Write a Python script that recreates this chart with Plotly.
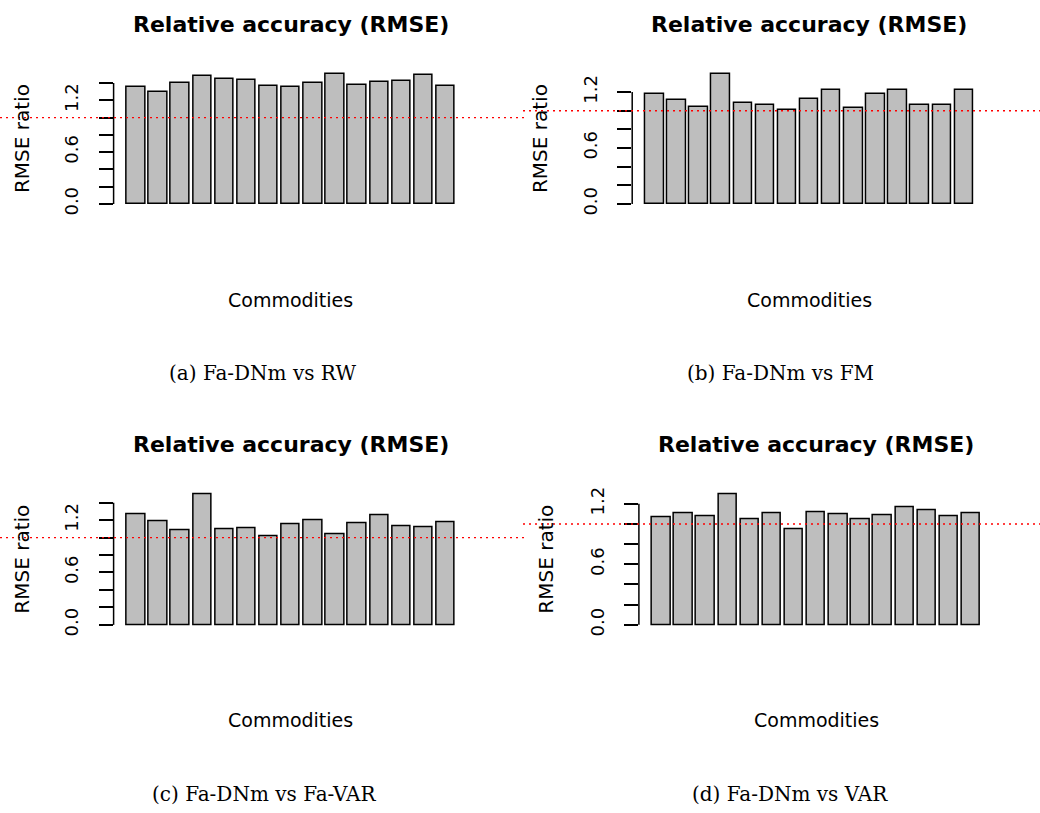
import numpy as np
import plotly.graph_objects as go

# ---------------- data ----------------
commodities = list(range(1, 16))
rmse_rw = [1.350, 1.293, 1.396, 1.484, 1.453, 1.434, 1.361, 1.350, 1.403, 1.503,
           1.381, 1.407, 1.423, 1.495, 1.365]
rmse_fm = [1.179, 1.115, 1.037, 1.391, 1.080, 1.062, 1.002, 1.126, 1.218, 1.030,
           1.182, 1.225, 1.058, 1.058, 1.225]
rmse_favar = [1.264, 1.192, 1.086, 1.494, 1.097, 1.112, 1.014, 1.154, 1.199, 1.037,
              1.165, 1.256, 1.135, 1.124, 1.180]
rmse_var = [1.066, 1.105, 1.079, 1.292, 1.046, 1.105, 0.948, 1.115, 1.095, 1.043,
            1.082, 1.167, 1.138, 1.072, 1.105]
captions = ["(a) Fa-DNm vs RW", "(b) Fa-DNm vs FM",
            "(c) Fa-DNm vs Fa-VAR", "(d) Fa-DNm vs VAR"]
title_text = "Relative accuracy (RMSE)"
x_title = "Commodities"
y_title = "RMSE ratio"
reference_level = 1.0
tick_step = 0.2

series = [rmse_rw, rmse_fm, rmse_favar, rmse_var]

# ---------------- layout geometry (pixels) ----------------
W, H = 1040, 813
# plot regions: (left, right, top, bottom) in px
regions = [(113.6, 468.1, 67.7, 209.2),
           (632.2, 986.4, 67.7, 209.2),
           (113.6, 468.1, 492.1, 634.3),
           (638.9, 993.4, 492.1, 634.3)]
ytitle_x = [22, 540, 22, 546]
caption_x = [262, 780, 264, 790]
row_text_y = [(23, 301, 375), (23, 301, 375), (447, 725, 800), (447, 725, 800)]
line_span = [(0, 525), (523, 1040), (0, 525), (523, 1040)]

SANS = "DejaVu Sans"
SERIF = "DejaVu Serif"

fig = go.Figure()
shapes = []
annotations = []
bar_w = 1 / 1.2

for k, vals in enumerate(series):
    idx = "" if k == 0 else str(k + 1)
    xa, ya = "x" + idx, "y" + idx
    fig.add_trace(go.Bar(
        x=commodities, y=vals, width=bar_w,
        marker=dict(color="#BEBEBE", line=dict(color="black", width=1.5)),
        xaxis=xa, yaxis=ya, showlegend=False, hoverinfo="x+y"))

    l, r, t, b = regions[k]
    n = len(vals)
    span_l, span_r = 1 - bar_w / 2, n + bar_w / 2
    ext = 0.04 * (span_r - span_l)
    ymax = max(vals)
    top_tick = np.floor(ymax / tick_step + 1e-9) * tick_step
    tickvals = list(np.round(np.arange(0, top_tick + 1e-9, tick_step), 2))
    ticktext = [f"{v:.1f}" if i % 3 == 0 else "" for i, v in enumerate(tickvals)]

    fig.layout["xaxis" + idx] = dict(
        domain=[l / W, r / W], anchor=ya, range=[span_l - ext, span_r + ext],
        showticklabels=False, showgrid=False, zeroline=False, showline=False,
        ticks="", fixedrange=True)
    fig.layout["yaxis" + idx] = dict(
        domain=[1 - b / H, 1 - t / H], anchor=xa,
        range=[-0.04 * ymax, 1.04 * ymax],
        tickmode="array", tickvals=tickvals, ticktext=ticktext,
        tickangle=-90, ticks="outside", ticklen=14, tickwidth=1.5,
        tickcolor="black", ticklabelstandoff=13,
        tickfont=dict(family=SANS, size=18, color="black"),
        showgrid=False, zeroline=False, showline=False, fixedrange=True)

    # axis line spanning only the tick range (R style)
    shapes.append(dict(type="line", xref=xa + " domain", yref=ya,
                       x0=0, x1=0, y0=tickvals[0], y1=tickvals[-1],
                       line=dict(color="black", width=1.5)))
    # reference line at 1
    x0, x1 = line_span[k]
    shapes.append(dict(type="line", xref="paper", yref=ya,
                       x0=x0 / W, x1=x1 / W, y0=reference_level, y1=reference_level,
                       line=dict(color="red", width=1.4, dash="2px,4px"),
                       layer="above"))

    ty, xy, cy = row_text_y[k]
    cx = (l + r) / 2
    annotations.append(dict(text=f"<b>{title_text}</b>", x=cx / W, y=1 - ty / H,
                            xref="paper", yref="paper", showarrow=False,
                            xanchor="center", yanchor="middle",
                            font=dict(family=SANS, size=22, color="black")))
    annotations.append(dict(text=x_title, x=cx / W, y=1 - xy / H,
                            xref="paper", yref="paper", showarrow=False,
                            xanchor="center", yanchor="middle",
                            font=dict(family=SANS, size=19, color="black")))
    annotations.append(dict(text=y_title, x=ytitle_x[k] / W, y=1 - ((t + b) / 2) / H,
                            xref="paper", yref="paper", showarrow=False,
                            xanchor="center", yanchor="middle", textangle=-90,
                            font=dict(family=SANS, size=20, color="black")))
    annotations.append(dict(text=captions[k], x=caption_x[k] / W, y=1 - cy / H,
                            xref="paper", yref="paper", showarrow=False,
                            xanchor="center", yanchor="middle",
                            font=dict(family=SERIF, size=20, color="black")))

fig.update_layout(
    width=W, height=H, margin=dict(l=0, r=0, t=0, b=0),
    paper_bgcolor="white", plot_bgcolor="white",
    shapes=shapes, annotations=annotations, bargap=0)

# Pin the figure to the top-left corner of the page with no page margin.
page_fix = (
    "var de=document.documentElement, bd=document.body;"
    "de.style.margin='0';de.style.padding='0';de.style.overflow='hidden';"
    "bd.style.margin='0';bd.style.padding='0';bd.style.overflow='hidden';"
    "var gd=document.getElementById('{plot_id}');"
    "gd.style.position='fixed';gd.style.left='0';gd.style.top='0';"
)
fig.write_html("out.html", config={"displayModeBar": False}, post_script=page_fix)
